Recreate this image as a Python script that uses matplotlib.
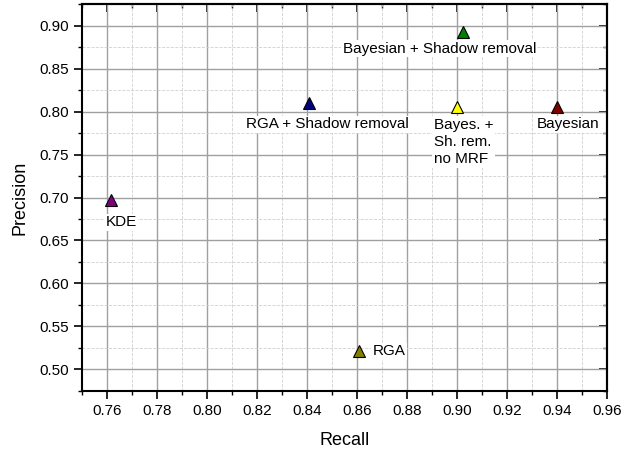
import matplotlib
matplotlib.use('Agg')
import matplotlib.pyplot as plt
from matplotlib.ticker import MultipleLocator

plt.rcParams['font.family'] = ['Liberation Sans', 'DejaVu Sans']

names = ['KDE', 'RGA + Shadow removal', 'Bayesian + Shadow removal',
         'Bayes. +\nSh. rem.\nno MRF', 'Bayesian', 'RGA']
recall = [0.7615, 0.841, 0.9025, 0.900, 0.940, 0.861]
precision = [0.697, 0.810, 0.892, 0.805, 0.805, 0.521]
colors = ['#800080', '#000080', '#008000', '#ffff00', '#800000', '#808000']

# label anchor (x, y) and alignment per point
label_pos = [(0.7595, 0.671, 'left', 'center'),
             (0.8484, 0.785, 'center', 'center'),
             (0.893, 0.873, 'center', 'center'),
             (0.8908, 0.793, 'left', 'top'),
             (0.9444, 0.785, 'center', 'center'),
             (0.8662, 0.521, 'left', 'center')]

fig = plt.figure(figsize=(6.21, 4.53), dpi=100)
ax = fig.add_axes([0.132, 0.137, 0.845, 0.854])

ax.set_xlim(0.75, 0.96)
ax.set_ylim(0.475, 0.925)
ax.xaxis.set_major_locator(MultipleLocator(0.02))
ax.xaxis.set_minor_locator(MultipleLocator(0.01))
ax.yaxis.set_major_locator(MultipleLocator(0.05))
ax.yaxis.set_minor_locator(MultipleLocator(0.025))
ax.xaxis.set_major_formatter(lambda v, p: '%.2f' % v)
ax.yaxis.set_major_formatter(lambda v, p: '%.2f' % v)

ax.grid(which='major', color='#a0a0a0', linewidth=1.0, linestyle='-')
ax.grid(which='minor', color='#d0d0d0', linewidth=0.6, linestyle='--')
ax.set_axisbelow(True)

for x, y, c in zip(recall, precision, colors):
    ax.plot(x, y, marker='^', markersize=8.5, color=c, markeredgecolor='black',
            markeredgewidth=0.8, linestyle='none', zorder=5)

for name, (tx, ty, ha, va) in zip(names, label_pos):
    ax.text(tx, ty, name, ha=ha, va=va, fontsize=11, linespacing=1.3,
            bbox=dict(facecolor='white', edgecolor='none', pad=1.0), zorder=4)

ax.set_xlabel('Recall', fontsize=13, labelpad=10)
ax.set_ylabel('Precision', fontsize=13, labelpad=8)

for s in ax.spines.values():
    s.set_linewidth(1.5)
ax.tick_params(which='major', direction='out', length=6, width=1.2, labelsize=11)
ax.tick_params(which='minor', direction='out', length=3, width=1.0)

top = ax.secondary_xaxis('top')
top.xaxis.set_major_locator(MultipleLocator(0.02))
top.xaxis.set_minor_locator(MultipleLocator(0.01))
top.tick_params(which='major', direction='in', length=6, width=1.2, labeltop=False)
top.tick_params(which='minor', direction='in', length=3, width=1.0)
right = ax.secondary_yaxis('right')
right.yaxis.set_major_locator(MultipleLocator(0.05))
right.yaxis.set_minor_locator(MultipleLocator(0.025))
right.tick_params(which='major', direction='in', length=6, width=1.2, labelright=False)
right.tick_params(which='minor', direction='in', length=3, width=1.0)
top.spines['top'].set_linewidth(1.5)
right.spines['right'].set_linewidth(1.5)

fig.savefig('out.png', dpi=100)
